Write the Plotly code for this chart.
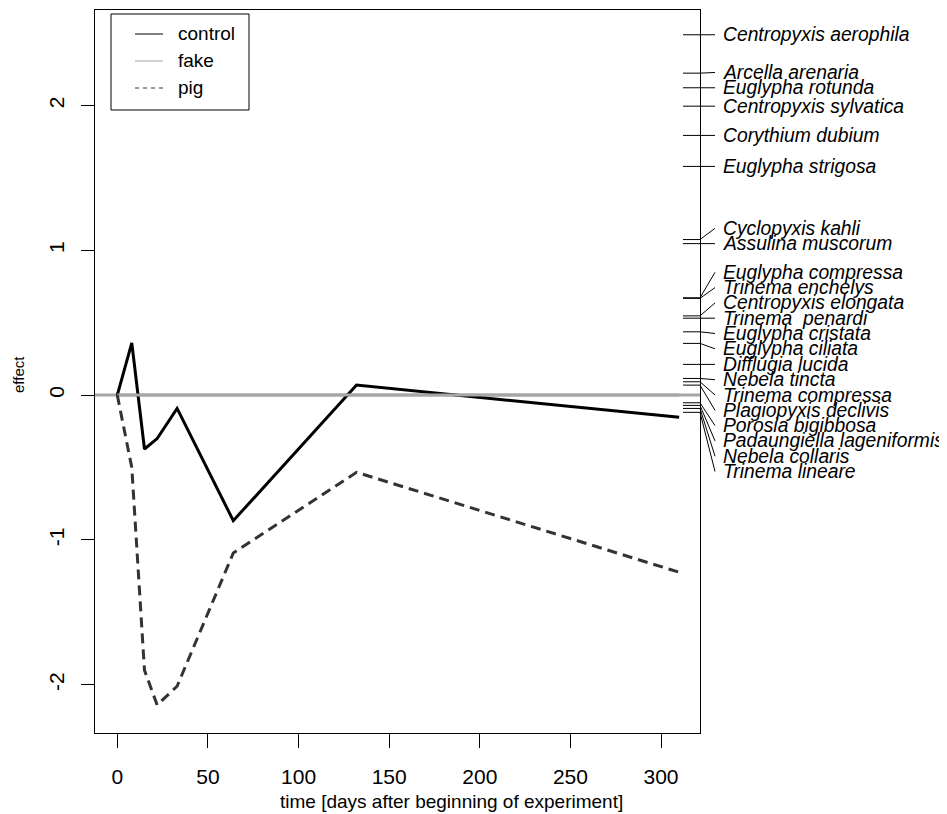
import plotly.graph_objects as go

# ---------------- data ----------------
times = [0, 8, 15, 22, 33, 64, 132, 310]
control = [0.0, 0.36, -0.372, -0.30, -0.092, -0.867, 0.069, -0.153]
fake = [0.0, 0.0, 0.0, 0.0, 0.0, 0.0, 0.0, 0.0]
pig = [0.0, -0.50, -1.90, -2.14, -2.01, -1.09, -0.533, -1.223]

x_ticks = [0, 50, 100, 150, 200, 250, 300]
y_ticks = [-2, -1, 0, 1, 2]

species = [
    "Centropyxis aerophila", "Arcella arenaria", "Euglypha rotunda",
    "Centropyxis sylvatica", "Corythium dubium", "Euglypha strigosa",
    "Cyclopyxis kahli", "Assulina muscorum", "Euglypha compressa",
    "Trinema enchelys", "Centropyxis elongata", "Trinema  penardi",
    "Euglypha cristata", "Euglypha ciliata", "Difflugia lucida",
    "Nebela tincta", "Trinema compressa", "Plagiopyxis declivis",
    "Porosia bigibbosa", "Padaungiella lageniformis", "Nebela collaris",
    "Trinema lineare",
]
species_scores = [
    2.488, 2.223, 2.122, 1.995, 1.793, 1.579,
    1.074, 1.046, 0.672, 0.668, 0.547, 0.531,
    0.437, 0.357, 0.212, 0.115, 0.092, 0.069,
    -0.053, -0.071, -0.092, -0.119,
]

# ---------------- layout constants ----------------
BODY = 8                                   # default page margin of the html body
W, H = 947 - BODY, 814 - BODY
PL, PR, PT, PB = 95, 700, 10, 733          # plot box in window pixels
XR = [-12.3, 321.5]
YR = [-2.333, 2.659]
FONT = "Liberation Sans, Arial, Helvetica, sans-serif"
GRAY = "#a6a6a6"
DARK = "#333333"


def px_x(p):
    return (p - PL) / (PR - PL)


def px_y(p):
    return (PB - p) / (PB - PT)


fig = go.Figure()
fig.add_trace(go.Scatter(x=times, y=control, mode="lines", name="control",
                         line=dict(color="black", width=3)))
fig.add_trace(go.Scatter(x=times, y=fake, mode="lines", name="fake",
                         line=dict(color=GRAY, width=3)))
fig.add_trace(go.Scatter(x=times, y=pig, mode="lines", name="pig",
                         line=dict(color=DARK, width=3, dash="10px,6px")))

shapes = []
# reference line (abline h = 0) in the colour of the reference group
shapes.append(dict(type="line", xref="x domain", yref="y", x0=0, x1=1,
                   y0=fake[0], y1=fake[0], line=dict(color=GRAY, width=3),
                   layer="below"))

# --- species stack on the right (vegan linestack) ---
gap = 15.3 * (YR[1] - YR[0]) / (PB - PT)
n = len(species)
order = sorted(range(n), key=lambda i: species_scores[i])
xs = [species_scores[i] for i in order]
pos = xs[:]
mid = (n + 1) // 2 - 1
for i in range(mid + 1, n):
    pos[i] = max(xs[i], pos[i - 1] + gap)
for i in range(mid - 1, -1, -1):
    pos[i] = min(xs[i], pos[i + 1] - gap)

annotations = []
for k, i in enumerate(order):
    s = species_scores[i]
    shapes.append(dict(type="line", xref="paper", yref="y",
                       x0=px_x(683), x1=1.0, y0=s, y1=s,
                       line=dict(color="black", width=1)))
    shapes.append(dict(type="line", xref="paper", yref="y",
                       x0=1.0, x1=px_x(715), y0=s, y1=pos[k],
                       line=dict(color="black", width=1)))
    annotations.append(dict(xref="paper", yref="y", x=px_x(721), y=pos[k],
                            text="<i>" + species[i] + "</i>", showarrow=False,
                            xanchor="left", yanchor="middle",
                            font=dict(family=FONT, size=19.3, color="black")))

# --- legend drawn like R's legend() ---
shapes.append(dict(type="rect", xref="paper", yref="paper",
                   x0=px_x(111), x1=px_x(249), y0=px_y(110), y1=px_y(14),
                   line=dict(color="black", width=1), fillcolor="white"))
leg = [("control", "black", "solid", 34), ("fake", GRAY, "solid", 61),
       ("pig", DARK, "4px,4px", 88)]
for name, col, dash, yy in leg:
    shapes.append(dict(type="line", xref="paper", yref="paper",
                       x0=px_x(135), x1=px_x(163), y0=px_y(yy), y1=px_y(yy),
                       line=dict(color=col, width=1, dash=dash)))
    annotations.append(dict(xref="paper", yref="paper", x=px_x(176),
                            y=px_y(yy), text=name, showarrow=False,
                            xanchor="left", yanchor="middle",
                            font=dict(family=FONT, size=19, color="black")))

# axis titles
annotations.append(dict(xref="paper", yref="paper", x=px_x(451), y=px_y(801),
                        text="time [days after beginning of experiment]",
                        showarrow=False, xanchor="center", yanchor="middle",
                        font=dict(family=FONT, size=19, color="black")))
annotations.append(dict(xref="paper", yref="paper", x=px_x(18), y=px_y(375),
                        text="effect", textangle=-90, showarrow=False,
                        xanchor="center", yanchor="middle",
                        font=dict(family=FONT, size=15, color="black")))

fig.update_layout(
    width=W, height=H,
    margin=dict(l=PL - BODY, r=W - (PR - BODY), t=PT - BODY,
                b=H - (PB - BODY), pad=0),
    paper_bgcolor="white", plot_bgcolor="white",
    showlegend=False,
    font=dict(family=FONT, color="black"),
    shapes=shapes, annotations=annotations,
    xaxis=dict(range=XR, tickvals=x_ticks, ticks="outside", ticklen=14,
               tickcolor="black", tickwidth=1, showgrid=False, zeroline=False,
               showline=True, mirror=True, linecolor="black", linewidth=1,
               tickfont=dict(family=FONT, size=21, color="black"),
               ticklabelstandoff=11),
    yaxis=dict(range=YR, tickvals=y_ticks, ticktext=[str(v) for v in y_ticks],
               ticks="outside", ticklen=13, tickangle=-90,
               tickcolor="black", tickwidth=1, showgrid=False, zeroline=False,
               showline=True, mirror=True, linecolor="black", linewidth=1,
               tickfont=dict(family=FONT, size=21, color="black"),
               ticklabelstandoff=9),
)

fig.write_html("out.html")
